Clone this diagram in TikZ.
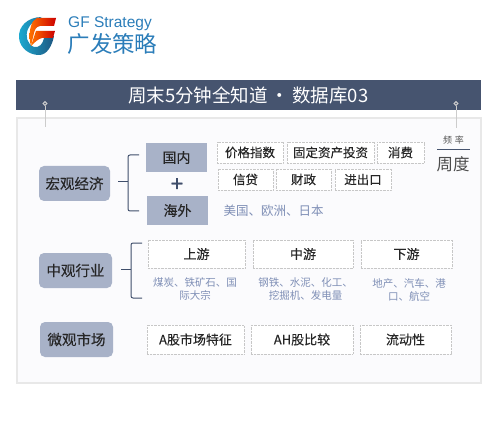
\documentclass[tikz,border=0pt]{standalone}
\usepackage{fontspec}
\setmainfont{Noto Sans CJK SC}
\newfontfamily\latinfont{Liberation Sans}
\newfontfamily\heavyfont{Noto Sans CJK SC}[FakeBold=0.25]
\newfontfamily\plusfont{Liberation Sans}[FakeBold=1.2]
\definecolor{barblue}{HTML}{46546F}
\definecolor{boxblue}{HTML}{A8B2C8}
\definecolor{darkblue}{HTML}{3F4E6B}
\definecolor{noteblue}{HTML}{7F8FB6}
\definecolor{logoblue}{HTML}{2B7DB9}
\definecolor{panelwhite}{HTML}{FBFBFD}
\begin{document}
\begin{tikzpicture}[
                x=1pt, y=-1pt,
                titlebar/.style={fill=barblue, text=white, inner sep=0pt, font=\fontsize{18.5}{20}\selectfont},
                topicbox/.style={fill=boxblue, rounded corners=5pt, inner sep=0pt, minimum height=35pt, text=black!85, font=\heavyfont\fontsize{14.5}{16}\selectfont},
                regionbox/.style={fill=boxblue, inner sep=0pt, minimum height=29pt, minimum width=61pt, text=black!85, font=\heavyfont\fontsize{14}{16}\selectfont},
                smallbox/.style={draw=black!22, densely dotted, fill=white, inner sep=0pt, minimum height=21.5pt, text=black!85, font=\heavyfont\fontsize{12.5}{14}\selectfont},
                widebox/.style={draw=black!22, densely dotted, fill=white, inner sep=0pt, minimum height=28.5pt, text=black!85, font=\heavyfont\fontsize{13}{15}\selectfont},
                note/.style={text=noteblue, inner sep=0pt, align=center, font=\fontsize{10.5}{13}\selectfont},
                pinhead/.style={circle, draw=black!20, fill=barblue, line width=1pt, inner sep=1.3pt},
                brace/.style={darkblue, line width=1pt, rounded corners=2pt},
                pinline/.style={black!20, line width=1pt}
            ]

                \useasboundingbox (0,0) rectangle (499,428);

                % Logo
                \shade[left color=cyan!35!logoblue, right color=logoblue!70!black]
                    (42,17) .. controls (27,17) and (18,27) .. (19,38) .. controls (20,48) and (29,55) .. (39,55)
                    .. controls (47,55) and (52,46) .. (54,36) -- (44,38) .. controls (43,44) and (39,48) .. (34,47)
                    .. controls (27,44) and (25,36) .. (28,29) .. controls (30,24) and (35,20) .. (42,17) -- cycle;
                \shade[left color=orange!90!red, right color=red!80!black]
                    (37,18) -- (56,18) -- (54,26) -- (40,26) .. controls (36,27) and (35,29) .. (34,33) -- (31,46)
                    .. controls (29,40) and (29,32) .. (31,26) .. controls (32,22) and (34,20) .. (37,18) -- cycle;
                \shade[left color=orange!90!red, right color=red!80!black]
                    (36,31) -- (55,31) -- (53,38) -- (42,38) .. controls (38,39) and (35,42) .. (31,46) -- cycle;
                \node[inner sep=0pt, text=logoblue, font=\latinfont\fontsize{15.5}{17}\selectfont] (gftext) at (110,24) {GF Strategy};
                \node[inner sep=0pt, text=logoblue, font=\fontsize{22.5}{25}\selectfont] (gfname) at (112.5,44) {广发策略};

                % Panel below the title
                \draw[black!9, fill=panelwhite, line width=1.5pt] (17,118) rectangle (481,383);

                % Title bar
                \node[titlebar, minimum width=465.5pt, minimum height=30.5pt] (title) at (248.25,95.25) {周末5分钟全知道\,·\,数据库03};

                % Pins on the two sides of the bar
                \node[pinhead] (pinl) at (45,103.5) {};
                \node[pinhead] (pinr) at (456,103.5) {};
                \coordinate (pinlend) at (45,127);
                \coordinate (pinrend) at (456,128);
                \draw[pinline] (pinl) -- (pinlend);
                \draw[pinline] (pinr) -- (pinrend);

                % Macro row
                \node[topicbox, minimum width=71pt] (macro) at (74.5,183.5) {宏观经济};
                \node[regionbox] (home) at (176.5,157.5) {国内};
                \node[regionbox] (abroad) at (177.5,210.5) {海外};
                \node[inner sep=0pt, text=darkblue, font=\plusfont\fontsize{22}{22}\selectfont] (plus) at (177,184.5) {+};

                \coordinate (macrostem) at (118,182);
                \coordinate (macrojoin) at (128,182);
                \coordinate (macrotop) at (139,155);
                \coordinate (macrobot) at (139,211);
                \draw[brace] (macrotop) -| (macrojoin) |- (macrobot);
                \draw[brace] (macrostem) -- (macrojoin);

                \node[smallbox, minimum width=66pt] (price) at (250,152.5) {价格指数};
                \node[smallbox, minimum width=87pt] (invest) at (330.5,152.5) {固定资产投资};
                \node[smallbox, minimum width=47pt] (spend) at (400.5,152.5) {消费};
                \node[smallbox, minimum width=55pt] (credit) at (245.5,179.5) {信贷};
                \node[smallbox, minimum width=55pt] (fiscal) at (303.5,179.5) {财政};
                \node[smallbox, minimum width=56pt] (trade) at (363,179.5) {进出口};
                \node[note, font=\fontsize{12.5}{14}\selectfont] (abroadlist) at (273.5,210.5) {美国、欧洲、日本};

                % Frequency
                \node[inner sep=0pt, text=black!65, font=\fontsize{9}{10}\selectfont] (freq) at (453.5,140) {频\hspace{3pt}率};
                \node[inner sep=0pt, text=black!70, font=\fontsize{16.5}{18}\selectfont] (week) at (453,164) {周度};
                \coordinate (freql) at (437,150);
                \coordinate (freqr) at (470,150);
                \draw[barblue, line width=1pt] (freql) -- (freqr);

                % Meso row
                \node[topicbox, minimum width=73pt] (meso) at (75.5,270.5) {中观行业};
                \coordinate (mesostem) at (121,269);
                \coordinate (mesojoin) at (131,269);
                \coordinate (mesotop) at (142,243);
                \coordinate (mesobot) at (142,298);
                \draw[brace] (mesotop) -| (mesojoin) |- (mesobot);
                \draw[brace] (mesostem) -- (mesojoin);

                \node[widebox, minimum width=97pt] (up) at (196.5,254) {上游};
                \node[widebox, minimum width=100pt] (mid) at (303,254) {中游};
                \node[widebox, minimum width=91pt] (down) at (406.5,254) {下游};
                \node[note] (uplist) at (195,288.5) {煤炭、铁矿石、国\\际大宗};
                \node[note] (midlist) at (305.5,289) {钢铁、水泥、化工、\\挖掘机、发电量};
                \node[note] (downlist) at (409,290) {地产、汽车、港\\口、航空};

                % Micro row
                \node[topicbox, minimum width=73pt] (micro) at (76.5,339.5) {微观市场};
                \node[widebox, minimum width=97pt] (ashare) at (195.5,339.5) {A股市场特征};
                \node[widebox, minimum width=102pt] (ahshare) at (302,339.5) {AH股比较};
                \node[widebox, minimum width=91pt] (liquid) at (405.5,339.5) {流动性};

            \end{tikzpicture}
\end{document}
